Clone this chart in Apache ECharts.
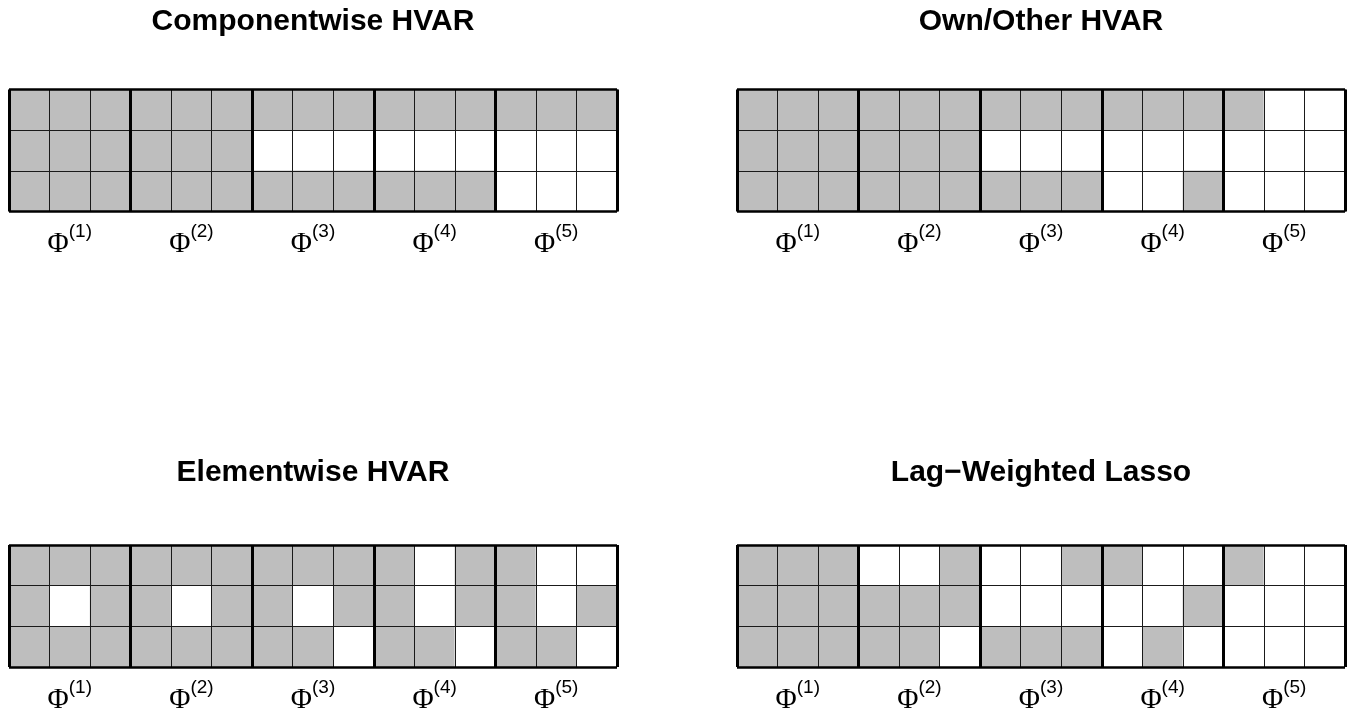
<!DOCTYPE html>
<html>
<head>
<meta charset="utf-8">
<script src="https://cdn.jsdelivr.net/npm/echarts@6/dist/echarts.min.js"></script>
<style>
  html, body { margin: 0; padding: 0; background: #fff; }
  #chart { width: 1355px; height: 719px; }
</style>
</head>
<body>
<div id="chart"></div>
<script>
// 3 rows x 15 columns (5 lag blocks of 3), 1 = active (grey), 0 = zero (white)
const rowNames = ['1', '2', '3']
const colNames = ['1', '2', '3', '4', '5', '6', '7', '8', '9', '10', '11', '12', '13', '14', '15']
const lagLabels = ['(1)', '(2)', '(3)', '(4)', '(5)']
const panelTitles = ['Componentwise HVAR', 'Own/Other HVAR', 'Elementwise HVAR', 'Lag\u2212Weighted Lasso']

const componentwise = [
  [1, 1, 1, 1, 1, 1, 1, 1, 1, 1, 1, 1, 1, 1, 1],
  [1, 1, 1, 1, 1, 1, 0, 0, 0, 0, 0, 0, 0, 0, 0],
  [1, 1, 1, 1, 1, 1, 1, 1, 1, 1, 1, 1, 0, 0, 0]
]
const ownOther = [
  [1, 1, 1, 1, 1, 1, 1, 1, 1, 1, 1, 1, 1, 0, 0],
  [1, 1, 1, 1, 1, 1, 0, 0, 0, 0, 0, 0, 0, 0, 0],
  [1, 1, 1, 1, 1, 1, 1, 1, 1, 0, 0, 1, 0, 0, 0]
]
const elementwise = [
  [1, 1, 1, 1, 1, 1, 1, 1, 1, 1, 0, 1, 1, 0, 0],
  [1, 0, 1, 1, 0, 1, 1, 0, 1, 1, 0, 1, 1, 0, 1],
  [1, 1, 1, 1, 1, 1, 1, 1, 0, 1, 1, 0, 1, 1, 0]
]
const lagWeighted = [
  [1, 1, 1, 0, 0, 1, 0, 0, 1, 1, 0, 0, 1, 0, 0],
  [1, 1, 1, 1, 1, 1, 0, 0, 0, 0, 0, 1, 0, 0, 0],
  [1, 1, 1, 1, 1, 0, 1, 1, 1, 0, 1, 0, 0, 0, 0]
]

const panels = [componentwise, ownOther, elementwise, lagWeighted]

// panel layout (px)
const gridBoxes = [
  { left: 9, top: 89.5 },
  { left: 737, top: 89.5 },
  { left: 9, top: 545 },
  { left: 737, top: 545 }
]
const gridW = 608
const gridH = 122
const titleYs = [22, 22, 473, 473]

const chart = echarts.init(document.getElementById('chart'))

function toCells(matrix) {
  const out = []
  matrix.forEach((row, r) => {
    row.forEach((v, c) => {
      out.push([c, r, v])
    })
  })
  return out
}

const grid = []
const xAxis = []
const yAxis = []
const series = []
const graphic = []

panels.forEach((m, g) => {
  grid.push({
    left: gridBoxes[g].left,
    top: gridBoxes[g].top,
    width: gridW,
    height: gridH,
    show: false
  })

  // cell axis with Phi labels under the middle column of each block
  xAxis.push({
    type: 'category',
    gridIndex: g,
    data: colNames,
    position: 'bottom',
    axisLine: { show: false },
    axisTick: { show: false },
    splitLine: { show: false },
    axisLabel: {
      interval: function (idx) { return idx % 3 === 1 },
      margin: 11,
      formatter: function (val, idx) {
        return '{phi|\u03A6}{sup|' + lagLabels[Math.floor(idx / 3)] + '}'
      },
      rich: {
        phi: { fontFamily: 'Liberation Serif', fontSize: 29, color: '#000', lineHeight: 44 },
        sup: { fontFamily: 'Liberation Sans', fontSize: 19, color: '#000', lineHeight: 20, verticalAlign: 'top' }
      }
    }
  })
  // thin cell lines
  xAxis.push({
    type: 'value', gridIndex: g, min: 0, max: 15, interval: 1, z: 5,
    axisLine: { show: false }, axisTick: { show: false }, axisLabel: { show: false },
    splitLine: { show: true, lineStyle: { color: '#1a1a1a', width: 1 } }
  })
  // thick block separators
  xAxis.push({
    type: 'value', gridIndex: g, min: 0, max: 15, interval: 3, z: 6,
    axisLine: { show: false }, axisTick: { show: false }, axisLabel: { show: false },
    splitLine: { show: true, lineStyle: { color: '#000', width: 3 } }
  })

  yAxis.push({
    type: 'category',
    gridIndex: g,
    data: rowNames,
    inverse: true,
    show: false
  })
  yAxis.push({
    type: 'value', gridIndex: g, min: 0, max: 3, interval: 1, z: 5,
    axisLine: { show: false }, axisTick: { show: false }, axisLabel: { show: false },
    splitLine: { show: true, lineStyle: { color: '#1a1a1a', width: 1 } }
  })
  yAxis.push({
    type: 'value', gridIndex: g, min: 0, max: 3, interval: 3, z: 6,
    axisLine: { show: false }, axisTick: { show: false }, axisLabel: { show: false },
    splitLine: { show: true, lineStyle: { color: '#000', width: 2.5 } }
  })

  series.push({
    type: 'heatmap',
    xAxisIndex: g * 3,
    yAxisIndex: g * 3,
    data: toCells(m),
    itemStyle: { borderWidth: 0 },
    emphasis: { disabled: true },
    animation: false
  })

  graphic.push({
    type: 'text',
    x: gridBoxes[g].left + gridW / 2,
    y: titleYs[g],
    style: {
      text: panelTitles[g],
      fill: '#000',
      font: 'bold 30px "Liberation Sans", Arial, sans-serif',
      textAlign: 'center',
      textVerticalAlign: 'middle'
    }
  })
})

chart.setOption({
  animation: false,
  backgroundColor: '#fff',
  grid: grid,
  xAxis: xAxis,
  yAxis: yAxis,
  visualMap: {
    type: 'piecewise',
    show: false,
    dimension: 2,
    seriesIndex: [0, 1, 2, 3],
    pieces: [
      { value: 0, color: '#ffffff' },
      { value: 1, color: '#bebebe' }
    ]
  },
  graphic: graphic,
  series: series
})
</script>
</body>
</html>
